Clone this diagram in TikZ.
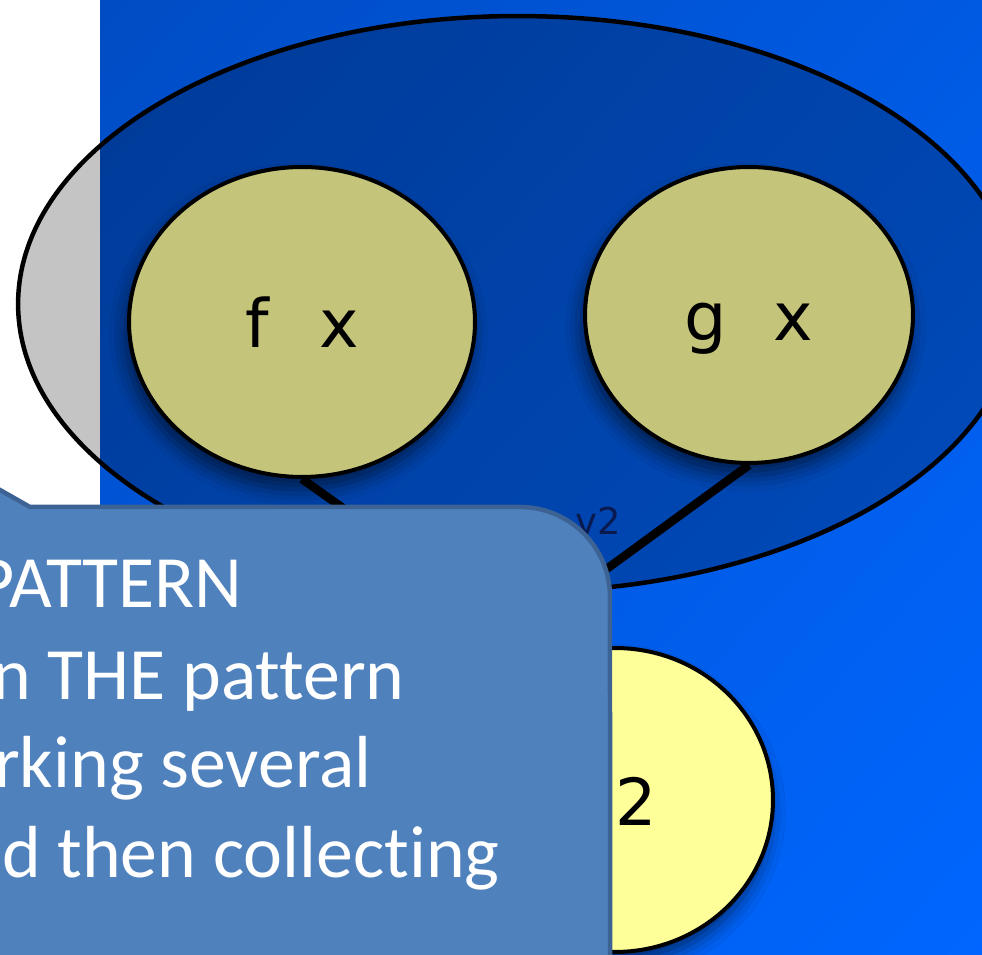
\documentclass[tikz,border=0pt]{standalone}
\usepackage{fontspec}
\setmainfont{DejaVu Sans}
\newfontfamily\calloutfont[Ligatures=NoCommon]{Carlito}
\usetikzlibrary{shapes.geometric,shadows.blur,shadings}

\definecolor{slidetop}{HTML}{004CC4}
\definecolor{slidemid}{HTML}{005AE2}
\definecolor{slidelow}{HTML}{0066FF}
\definecolor{leaffill}{HTML}{C4C47A}
\definecolor{resfill}{HTML}{FFFF99}
\definecolor{callfill}{HTML}{4F81BD}
\definecolor{calledge}{HTML}{3D6394}
\definecolor{tagcol}{HTML}{0A1A4E}

\tikzset{
	bigset/.style={draw=black, line width=0.9mm, fill=black, fill opacity=0.23},
	leaf/.style={ellipse, draw=black, line width=0.8mm, fill=leaffill, inner sep=0pt,
		text height=1.02cm, text depth=0pt, font=\fontsize{38}{38}\selectfont,
		blur shadow={shadow xshift=-2pt, shadow yshift=-7pt, shadow blur radius=9pt, shadow opacity=55}},
	result/.style={leaf, fill=resfill},
	edge/.style={line width=1.7mm, draw=black},
	tag/.style={text=tagcol, inner sep=0pt, font=\fontsize{21}{21}\selectfont},
	callout/.style={fill=callfill, draw=calledge, line width=0.9mm, line join=round},
	calltext/.style={text=white, inner sep=0pt, font=\calloutfont\fontsize{42}{51}\selectfont}
}

\begin{document}
\begin{tikzpicture}[x=0.02cm, y=0.02cm]
			%%%%% START %%%%%
			
			\useasboundingbox (0,0) rectangle (982,955);
			\clip (0,0) rectangle (982,955);
			\fill[white] (0,0) rectangle (982,955);
			
			% slide background
			\shade[upper left=slidetop, upper right=slidemid, lower left=slidemid, lower right=slidelow] (100,0) rectangle (982,955);
			
			% outer set
			\draw[bigset] (518,651) ellipse [x radius=10cm, y radius=5.76cm];
			
			\node[leaf, minimum width=6.92cm, minimum height=6.2cm] (fx) at (302,633) {f\hspace{0.75em}x};
			\node[leaf, minimum width=6.56cm, minimum height=5.92cm] (gx) at (749,640) {g\hspace{0.7em}x};
			
			\coordinate (join) at (519,322);
			\draw[edge] (fx.south) -- (join);
			\draw[edge] (gx.south) -- (join);
			
			\node[tag, anchor=base west] (v2) at (575,420) {v2};
			
			\node[result, minimum width=6.32cm, minimum height=6.08cm] (res) at (615,155) {};
			\node[inner sep=0pt, anchor=west, font=\fontsize{37}{37}\selectfont] (restext) at (615,154) {2};
			
			% speech bubble on top
			\draw[callout] (-200,448) -- (-150,550) -- (30,448) -- (520,448) arc[start angle=90, end angle=0, radius=1.8cm] -- (610,-60) -- (-200,-60) -- cycle;
			
			\node[calltext, anchor=base east] (line1) at (243,347) {PATTERN};
			\node[calltext, anchor=base east] (line2) at (405,255) {n THE pattern};
			\node[calltext, anchor=base east] (line3) at (372,167) {rking several};
			\node[calltext, anchor=base east] (line4) at (500,77) {d then collecting};
			
			%%%%% END %%%%%
		\end{tikzpicture}
\end{document}
